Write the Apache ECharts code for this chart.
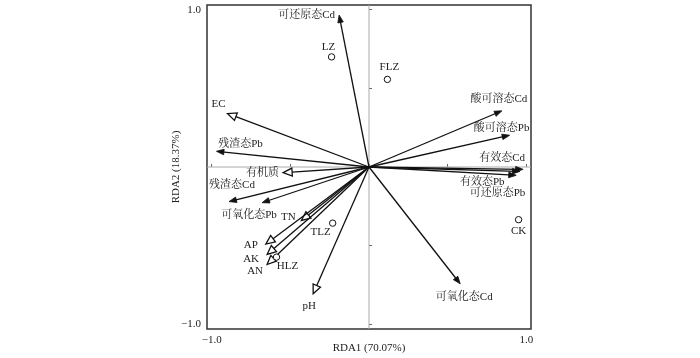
<!DOCTYPE html>
<html>
<head>
<meta charset="utf-8">
<script src="https://cdn.jsdelivr.net/npm/echarts@6/dist/echarts.min.js"></script>
<style>html,body{margin:0;padding:0;background:#fff}#c{width:700px;height:358px}</style>
</head>
<body>
<div id="c"></div>
<script>
// ---- data ----
const varNames = ['可还原态Cd','EC','残渣态Pb','有机质','残渣态Cd','可氧化态Pb','TN','AP','AK','AN','pH',
  '酸可溶态Cd','酸可溶态Pb','有效态Cd','可还原态Pb','有效态Pb','可氧化态Cd'];
const varX = [-0.19,-0.90,-0.97,-0.546,-0.89,-0.68,-0.43,-0.656,-0.648,-0.648,-0.355,
  0.845,0.894,0.98,0.96,0.936,0.58];
const varY = [0.966,0.34,0.10,-0.036,-0.22,-0.227,-0.34,-0.49,-0.556,-0.62,-0.806,
  0.357,0.202,-0.015,-0.028,-0.053,-0.743];
const envVars = ['EC','有机质','TN','AP','AK','AN','pH'];
const siteNames = ['LZ','FLZ','TLZ','HLZ','CK'];
const siteX = [-0.238,0.117,-0.231,-0.588,0.951];
const siteY = [0.70,0.557,-0.357,-0.573,-0.335];
const xTicks = [-1,-0.5,0,0.5,1];
const yTicks = [-1,-0.5,0,0.5,1];
const tickLabels = [-1,1];
const xName = 'RDA1 (70.07%)';
const yName = 'RDA2 (18.37%)';

// ---- label placement (style, px offsets from tip) ----
const varLabelPos = {
  '可还原态Cd':[-4,0,'right'],'EC':[-9,-9,'center'],'残渣态Pb':[24,-7.5,'center'],'有机质':[-4,0,'right'],
  '残渣态Cd':[3,-16,'center'],'可氧化态Pb':[-13,12,'center'],'TN':[-13,-3,'center'],'AP':[-15,1,'center'],
  'AK':[-16,5,'center'],'AN':[-12,7,'center'],'pH':[-4,12,'center'],'酸可溶态Cd':[-3,-12,'center'],
  '酸可溶态Pb':[-8,-7,'center'],'有效态Cd':[-21,-11,'center'],'可还原态Pb':[-22.5,22,'center'],
  '有效态Pb':[-34,7,'center'],'可氧化态Cd':[4,13,'center']
};
const siteLabelPos = {'LZ':[-3,-10],'FLZ':[2,-12],'TLZ':[-12,9],'HLZ':[11,9],'CK':[0,11]};

const FONT = "11px 'Liberation Serif','Noto Serif CJK SC','Noto Sans CJK SC',serif";
const TXT = '#222';

const chart = echarts.init(document.getElementById('c'));

function fmt(v){ return v < 0 ? '\u22121.0' : '1.0'; }

const option = {
  animation:false,
  backgroundColor:'#fff',
  grid:{left:207,top:5,width:324,height:324,show:true,borderColor:'#333',borderWidth:1.5,backgroundColor:'transparent',
    containLabel:false,outerBoundsMode:'none'},
  xAxis:{type:'value',min:-1.03,max:1.03,
    name:xName,nameLocation:'middle',nameGap:14,nameMoveOverlap:false,
    nameTextStyle:{fontFamily:"'Liberation Serif',serif",fontSize:11,color:TXT},
    axisLine:{show:false},splitLine:{show:false},
    axisTick:{show:true,inside:true,length:3,customValues:xTicks,lineStyle:{color:'#666'}},
    axisLabel:{customValues:tickLabels,formatter:fmt,margin:6,fontFamily:"'Liberation Serif',serif",fontSize:11,color:TXT}
  },
  yAxis:{type:'value',min:-1.03,max:1.03,
    name:yName,nameLocation:'middle',nameGap:25,nameMoveOverlap:false,
    nameTextStyle:{fontFamily:"'Liberation Serif',serif",fontSize:11,color:TXT},
    axisLine:{show:false},splitLine:{show:false},
    axisTick:{show:true,inside:true,length:3,customValues:yTicks,lineStyle:{color:'#666'}},
    axisLabel:{customValues:tickLabels,formatter:fmt,margin:6,fontFamily:"'Liberation Serif',serif",fontSize:11,color:TXT}
  },
  series:[
    {
      type:'custom',z:1,silent:true,
      data:[[0,0]],
      renderItem:function(params,api){
        const cs = params.coordSys;
        const o = api.coord([0,0]);
        return {type:'group',children:[
          {type:'line',shape:{x1:o[0],y1:cs.y,x2:o[0],y2:cs.y+cs.height},style:{stroke:'#aaa',lineWidth:1}},
          {type:'line',shape:{x1:cs.x,y1:o[1],x2:cs.x+cs.width,y2:o[1]},style:{stroke:'#aaa',lineWidth:1}}
        ]};
      }
    },
    {
      type:'custom',z:3,silent:true,
      data:varNames.map((n,i)=>[varX[i],varY[i],i]),
      renderItem:function(params,api){
        const i = api.value(2);
        const name = varNames[i];
        const p = api.coord([api.value(0),api.value(1)]);
        const o = api.coord([0,0]);
        const dx = p[0]-o[0], dy = p[1]-o[1];
        const len = Math.sqrt(dx*dx+dy*dy);
        const ux = dx/len, uy = dy/len, nx = -uy, ny = ux;
        const open = envVars.indexOf(name) >= 0;
        const L = open ? 9 : 7.5, W = open ? 4 : 2.8;
        const bx = p[0]-ux*L, by = p[1]-uy*L;
        const children = [];
        children.push({type:'line',shape:{x1:o[0],y1:o[1],x2:open?bx:p[0]-ux*3,y2:open?by:p[1]-uy*3},
          style:{stroke:'#111',lineWidth:1.3}});
        children.push({type:'polygon',shape:{points:[[p[0],p[1]],[bx+nx*W,by+ny*W],[bx-nx*W,by-ny*W]]},
          style:open?{fill:'#fff',stroke:'#111',lineWidth:1.3}:{fill:'#111',stroke:'#111',lineWidth:0.8}});
        const lp = varLabelPos[name];
        children.push({type:'text',style:{text:name,x:p[0]+lp[0],y:p[1]+lp[1],align:lp[2],verticalAlign:'middle',
          font:FONT,fill:TXT}});
        return {type:'group',children:children};
      }
    },
    {
      type:'custom',z:4,silent:true,
      data:siteNames.map((n,i)=>[siteX[i],siteY[i],i]),
      renderItem:function(params,api){
        const i = api.value(2);
        const name = siteNames[i];
        const p = api.coord([api.value(0),api.value(1)]);
        const lp = siteLabelPos[name];
        return {type:'group',children:[
          {type:'circle',shape:{cx:p[0],cy:p[1],r:3.2},style:{fill:'#fff',stroke:'#111',lineWidth:1}},
          {type:'text',style:{text:name,x:p[0]+lp[0],y:p[1]+lp[1],align:'center',verticalAlign:'middle',font:FONT,fill:TXT}}
        ]};
      }
    }
  ]
};
chart.setOption(option);
</script>
</body>
</html>
